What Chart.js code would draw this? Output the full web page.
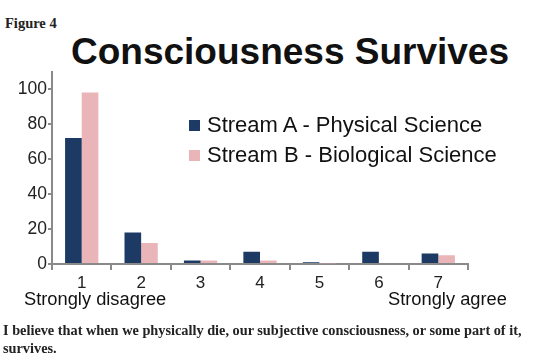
<!DOCTYPE html>
<html>
<head>
<meta charset="utf-8">
<script src="https://cdn.jsdelivr.net/npm/chart.js@4"></script>
<style>
    body { margin: 0; background: #fff; }
    #wrap { position: relative; width: 540px; height: 362px; overflow: hidden; font-family: "Liberation Sans", Arial, sans-serif; }
    #chart-box { position: absolute; left: 0; top: 60px; width: 470px; height: 238px; }
    .fig { position: absolute; left: 5px; top: 15px; font: bold 14.5px "Liberation Serif", serif; color: #222; }
    .title { position: absolute; left: 71px; top: 31px; font: bold 37px "Liberation Sans", Arial, sans-serif; color: #111; white-space: nowrap; }
    .legend { position: absolute; left: 189px; font-size: 22px; color: #111; white-space: nowrap; }
    .legend span { display: inline-block; width: 11px; height: 11px; margin-right: 7px; vertical-align: 1px; }
    .end { position: absolute; top: 288px; font-size: 18.3px; color: #111; white-space: nowrap; }
    .caption { position: absolute; left: 3px; top: 321px; width: 535px; font: bold 14.3px/18px "Liberation Serif", serif; color: #222; }
</style>
</head>
<body>
<div id="wrap">
    <div class="fig">Figure 4</div>
    <div class="title">Consciousness Survives</div>
    <div id="chart-box"><canvas id="summary-chart"></canvas></div>
    <div class="legend" style="top:112px"><span style="background:#1d3a64"></span>Stream A - Physical Science</div>
    <div class="legend" style="top:142px"><span style="background:#e9b5b9"></span>Stream B - Biological Science</div>
    <div class="end" style="left:24px">Strongly disagree</div>
    <div class="end" style="left:388px">Strongly agree</div>
    <div class="caption">I believe that when we physically die, our subjective consciousness, or some part of it, survives.</div>
</div>
<script>
const categories = ['1', '2', '3', '4', '5', '6', '7'];
const streamA = [72, 18, 2, 7, 1, 7, 6];
const streamB = [98, 12, 2, 2, 0.5, 0, 5];
const yTicks = [0, 20, 40, 60, 80, 100];

document.addEventListener("DOMContentLoaded", function () {
    const ctx = document.getElementById('summary-chart').getContext('2d');
    const axisColor = '#8a8a8a';

    new Chart(ctx, {
        type: 'bar',
        data: {
            labels: categories,
            datasets: [
                { label: 'Stream A - Physical Science', data: streamA, backgroundColor: '#1d3a64' },
                { label: 'Stream B - Biological Science', data: streamB, backgroundColor: '#e9b5b9' }
            ]
        },
        options: {
            responsive: true,
            maintainAspectRatio: false,
            animation: false,
            layout: { padding: { top: 8, right: 2, left: 0, bottom: 0 } },
            datasets: { bar: { categoryPercentage: 0.56, barPercentage: 1 } },
            plugins: { legend: { display: false }, tooltip: { enabled: false } },
            scales: {
                x: {
                    afterFit: scale => { scale.height = 34; },
                    grid: { offset: true, drawOnChartArea: false, tickLength: 6, color: axisColor, lineWidth: 2 },
                    border: { color: axisColor, width: 2 },
                    ticks: { color: '#222', font: { size: 17, family: '"Liberation Sans", Arial' }, padding: 3 }
                },
                y: {
                    min: 0,
                    max: 110,
                    afterFit: scale => { scale.width = 52; },
                    afterBuildTicks: scale => { scale.ticks = yTicks.map(v => ({ value: v })); },
                    grid: { drawOnChartArea: false, tickLength: 4, color: axisColor, lineWidth: 2 },
                    border: { color: axisColor, width: 2 },
                    ticks: { color: '#222', font: { size: 17.5, family: '"Liberation Sans", Arial' }, padding: 1 }
                }
            }
        }
    });
});
</script>
</body>
</html>
